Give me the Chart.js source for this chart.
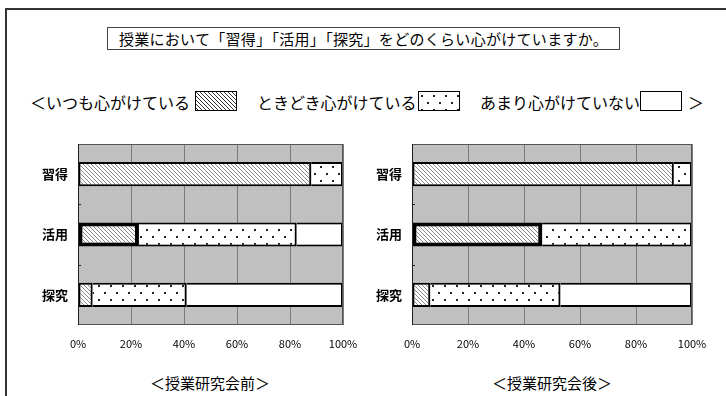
<!DOCTYPE html>
<html lang="ja">
<head>
<meta charset="utf-8">
<script src="https://cdn.jsdelivr.net/npm/chart.js@4/dist/chart.umd.min.js"></script>
<style>
  html, body { margin:0; padding:0; background:#fff; }
  body { width:726px; height:396px; position:relative; overflow:hidden;
         font-family:"Noto Sans CJK JP","Noto Sans",sans-serif; color:#000; }
  .frame { position:absolute; left:5px; top:8px; width:760px; height:420px;
           border-left:2px solid #333; border-top:2px solid #333; }
  .title { position:absolute; left:107px; top:27px; width:511px; height:21px;
           border:1px solid #444; font-size:15px; line-height:21px; text-align:center;
           letter-spacing:0.3px; white-space:nowrap; }
  .lg { position:absolute; top:90px; font-size:16px; line-height:24px; white-space:nowrap; }
  .sw { position:absolute; top:91px; width:42px; height:20px; border:1px solid #000; box-sizing:border-box; }
  .sub { position:absolute; top:372px; font-size:15px; line-height:22px; white-space:nowrap;
         transform:translateX(-50%); }
  .cw { position:absolute; }
</style>
</head>
<body>
<div class="frame"></div>
<div class="title">授業において「習得」「活用」「探究」をどのくらい心がけていますか。</div>

<div class="lg" style="left:30px;">＜いつも心がけている</div>
<div class="sw" id="swHatch" style="left:195px;"></div>
<div class="lg" style="left:257px;">ときどき心がけている</div>
<div class="sw" id="swDots" style="left:418px;"></div>
<div class="lg" style="left:480px;">あまり心がけていない</div>
<div class="sw" style="left:640px;background:#fff;"></div>
<div class="lg" style="left:688px;">＞</div>

<div class="cw" style="left:30px;top:135px;"><canvas id="c1" width="330" height="225"></canvas></div>
<div class="cw" style="left:364px;top:135px;"><canvas id="c2" width="362" height="225"></canvas></div>

<div class="sub" style="left:210px;">＜授業研究会前＞</div>
<div class="sub" style="left:552px;">＜授業研究会後＞</div>

<script>
// ---- data ----
const categories = ['習得', '活用', '探究'];
const seriesNames = ['いつも心がけている', 'ときどき心がけている', 'あまり心がけていない'];
const beforeAlways    = [88, 23, 5.5];
const beforeSometimes = [12, 59.5, 35.5];
const beforeRarely    = [0, 17.5, 59];
const afterAlways     = [93.5, 46.5, 6.5];
const afterSometimes  = [6.5, 53.5, 46.5];
const afterRarely     = [0, 0, 47];
const xTickValues = [0, 20, 40, 60, 80, 100];

// ---- patterns ----
function hatchPattern(color) {
  const c = document.createElement('canvas');
  c.width = 4; c.height = 4;
  const g = c.getContext('2d');
  g.fillStyle = '#fff'; g.fillRect(0, 0, 4, 4);
  g.fillStyle = color;
  for (let i = 0; i < 4; i++) g.fillRect(i, i, 1, 1);
  return c;
}
function dotPattern() {
  const c = document.createElement('canvas');
  c.width = 12; c.height = 14;
  const g = c.getContext('2d');
  g.fillStyle = '#fff'; g.fillRect(0, 0, 12, 14);
  g.fillStyle = '#222';
  g.fillRect(2, 3, 2, 2);
  g.fillRect(8, 10, 2, 2);
  return c;
}
const hatchCanvas = hatchPattern('#8a8a8a');
const dotCanvas = dotPattern();
document.getElementById('swHatch').style.background = 'url(' + hatchPattern('#333').toDataURL() + ')';
document.getElementById('swDots').style.background = 'url(' + dotCanvas.toDataURL() + ')';

const bgPlugin = {
  id: 'plotBg',
  beforeDraw(chart) {
    const a = chart.chartArea, ctx = chart.ctx;
    ctx.save(); ctx.fillStyle = '#c0c0c0';
    ctx.fillRect(a.left, a.top, a.right - a.left, a.bottom - a.top);
    ctx.restore();
  },
  afterDatasetsDraw(chart) {
    const a = chart.chartArea, ctx = chart.ctx;
    ctx.save();
    ctx.strokeStyle = '#555'; ctx.lineWidth = 1;
    ctx.strokeRect(a.left + 0.5, a.top + 0.5, a.right - a.left - 1, a.bottom - a.top - 1);
    ctx.strokeStyle = '#222';
    ctx.beginPath(); ctx.moveTo(a.left + 0.5, a.top); ctx.lineTo(a.left + 0.5, a.bottom); ctx.stroke();
    const n = categories.length, h = (a.bottom - a.top) / n;
    for (let i = 1; i < n; i++) {
      const y = Math.round(a.top + h * i) + 0.5;
      ctx.beginPath(); ctx.moveTo(a.left, y); ctx.lineTo(a.left + 3, y); ctx.stroke();
    }
    ctx.restore();
  }
};

function makeChart(id, always, sometimes, rarely, padRight) {
  const ctx = document.getElementById(id).getContext('2d');
  const hatch = ctx.createPattern(hatchCanvas, 'repeat');
  const dots = ctx.createPattern(dotCanvas, 'repeat');
  const common = { borderColor: '#000', barPercentage: 0.8, categoryPercentage: 0.5 };
  return new Chart(ctx, {
    type: 'bar',
    data: {
      labels: categories,
      datasets: [
        Object.assign({ label: seriesNames[0], data: always, backgroundColor: hatch,
          borderWidth: [2, 4, 2], borderSkipped: false }, common),
        Object.assign({ label: seriesNames[1], data: sometimes, backgroundColor: dots,
          borderWidth: 2, borderSkipped: 'start' }, common),
        Object.assign({ label: seriesNames[2], data: rarely, backgroundColor: '#fff',
          borderWidth: 2, borderSkipped: 'start' }, common)
      ]
    },
    options: {
      indexAxis: 'y',
      responsive: false,
      animation: false,
      layout: { padding: { top: 9, bottom: 5, left: 0, right: padRight } },
      plugins: { legend: { display: false }, tooltip: { enabled: false } },
      scales: {
        x: {
          stacked: true, min: 0, max: 100,
          afterBuildTicks(s) { s.ticks = xTickValues.map(v => ({ value: v })); },
          afterFit(s) { s.height = 30; s.paddingLeft = 0; s.paddingRight = 0; },
          ticks: { callback: v => v + '%', color: '#000', padding: 12,
                   font: { family: '"Noto Sans CJK JP", sans-serif', size: 11 } },
          grid: { color: '#7a7a7a', lineWidth: 1, drawTicks: false },
          border: { display: false }
        },
        y: {
          stacked: true,
          afterFit(s) { s.width = 48; s.paddingTop = 0; s.paddingBottom = 0; },
          ticks: { color: '#000', padding: 10,
                   font: { family: '"Noto Sans CJK JP", sans-serif', size: 13, weight: 'bold' } },
          grid: { display: false, drawTicks: false },
          border: { display: false }
        }
      }
    },
    plugins: [bgPlugin]
  });
}

makeChart('c1', beforeAlways, beforeSometimes, beforeRarely, 17);
makeChart('c2', afterAlways, afterSometimes, afterRarely, 34);
</script>
</body>
</html>
